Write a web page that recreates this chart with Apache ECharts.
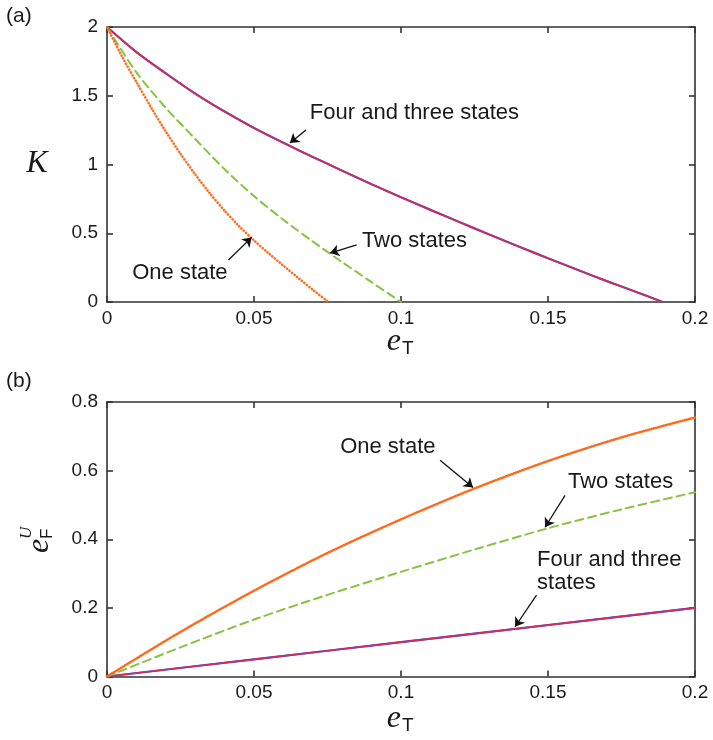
<!DOCTYPE html>
<html>
<head>
<meta charset="utf-8">
<script src="https://cdn.jsdelivr.net/npm/echarts/dist/echarts.min.js"></script>
<style>
  html, body { margin: 0; padding: 0; background: #fff; }
  #c { width: 713px; height: 740px; }
</style>
</head>
<body>
<div id="c"></div>
<script>
// ---------- data ----------
const xTickLabels = ['0', '0.05', '0.1', '0.15', '0.2'];
const kTickLabels = ['0', '0.5', '1', '1.5', '2'];
const efTickLabels = ['0', '0.2', '0.4', '0.6', '0.8'];

// panel (a): K vs e_T
const kFourThree = [[0,2],[0.01,1.818],[0.02,1.663],[0.03,1.516],[0.04,1.385],[0.05,1.266],[0.06,1.158],[0.07,1.055],[0.08,0.955],[0.09,0.857],[0.1,0.762],[0.11,0.67],[0.12,0.58],[0.13,0.491],[0.14,0.404],[0.15,0.318],[0.16,0.234],[0.17,0.152],[0.18,0.073],[0.189,0]];
const kTwo = [[0,2],[0.01,1.67],[0.02,1.412],[0.03,1.186],[0.04,0.965],[0.05,0.77],[0.06,0.598],[0.07,0.44],[0.08,0.29],[0.09,0.144],[0.1,0]];
const kOne = [[0,2],[0.005,1.79],[0.01,1.6],[0.015,1.415],[0.02,1.24],[0.025,1.078],[0.03,0.928],[0.035,0.79],[0.04,0.664],[0.045,0.55],[0.05,0.448],[0.055,0.354],[0.06,0.264],[0.065,0.176],[0.07,0.089],[0.0753,0]];

// panel (b): e_F^U vs e_T
const efOne = [[0,0],[0.025,0.13],[0.05,0.25],[0.075,0.36],[0.1,0.458],[0.125,0.548],[0.15,0.628],[0.175,0.697],[0.2,0.755]];
const efTwo = [[0,0],[0.025,0.085],[0.05,0.166],[0.075,0.238],[0.1,0.305],[0.125,0.37],[0.15,0.432],[0.175,0.487],[0.2,0.537]];
const efFourThree = [[0,0],[0.05,0.05],[0.1,0.1],[0.15,0.15],[0.2,0.2]];

// annotation arrows (from -> to, data coords) and texts
const arrowsA = [
  {from:[0.0677,1.251], to:[0.0622,1.156]},
  {from:[0.0849,0.415], to:[0.0759,0.356]},
  {from:[0.0413,0.305], to:[0.0492,0.47]}
];
const notesA = [
  {text:'Four and three states', at:[0.069,1.375], align:'left'},
  {text:'Two states', at:[0.0867,0.444], align:'left'},
  {text:'One state', at:[0.0248,0.211], align:'center'}
];
const arrowsB = [
  {from:[0.1133,0.630], to:[0.1245,0.551]},
  {from:[0.1558,0.528], to:[0.149,0.435]},
  {from:[0.1461,0.237], to:[0.1388,0.145]}
];
const notesB = [
  {text:'One state', at:[0.0793,0.668], align:'left'},
  {text:'Two states', at:[0.1568,0.566], align:'left'},
  {text:'Four and three\nstates', at:[0.1463,0.307], align:'left'}
];

// ---------- styles ----------
const FRAME = '#333';
const TXT = '#1a1a1a';
const SANS = '"Liberation Sans", Arial, Helvetica, sans-serif';
const SERIF = '"Liberation Serif", "Times New Roman", serif';
const ORANGE = '#ff6a1a';
const GREEN = '#86c440';
const RED = '#d62a5c';
const BLUE = '#4050c8';

function mkX(grid, pos, labels) {
  return {
    type: 'value', gridIndex: grid, position: pos, min: 0, max: 0.2, interval: 0.05,
    axisLine: { show: true, onZero: false, lineStyle: { color: FRAME, width: 1.6 } },
    axisTick: { show: true, inside: true, length: 6, lineStyle: { color: FRAME, width: 1.6 } },
    axisLabel: labels ? { show: true, margin: 7, fontSize: 19, color: TXT, fontFamily: SANS,
      showMinLabel: true, showMaxLabel: true, formatter: (v, i) => xTickLabels[i] } : { show: false },
    splitLine: { show: false }
  };
}
function mkY(grid, pos, labels, max, interval, tickLabels) {
  return {
    type: 'value', gridIndex: grid, position: pos, min: 0, max: max, interval: interval,
    axisLine: { show: true, onZero: false, lineStyle: { color: FRAME, width: 1.6 } },
    axisTick: { show: true, inside: true, length: 6, lineStyle: { color: FRAME, width: 1.6 } },
    axisLabel: labels ? { show: true, margin: 9, fontSize: 19, color: TXT, fontFamily: SANS,
      showMinLabel: true, showMaxLabel: true, formatter: (v, i) => tickLabels[i] } : { show: false },
    splitLine: { show: false }
  };
}
function line(xi, yi, data, color, width, type, extra) {
  return Object.assign({
    type: 'line', xAxisIndex: xi, yAxisIndex: yi, data: data, showSymbol: false, symbol: 'none',
    smooth: 0.3, silent: true,
    lineStyle: { color: color, width: width, type: type, cap: 'round' }
  }, extra || {});
}
function arrowMark(arrows) {
  return {
    silent: true, symbol: ['none', 'arrow'], symbolSize: 9,
    lineStyle: { color: '#111', width: 1.3, type: 'solid' },
    label: { show: false }, emphasis: { disabled: true },
    data: arrows.map(a => [{ coord: a.from }, { coord: a.to }])
  };
}

const option = {
  animation: false,
  backgroundColor: '#fff',
  grid: [
    { left: 107, top: 27, width: 588, height: 275 },
    { left: 107, top: 402, width: 588, height: 274.5 }
  ],
  xAxis: [mkX(0, 'bottom', true), mkX(0, 'top', false), mkX(1, 'bottom', true), mkX(1, 'top', false)],
  yAxis: [mkY(0, 'left', true, 2, 0.5, kTickLabels), mkY(0, 'right', false, 2, 0.5, kTickLabels),
          mkY(1, 'left', true, 0.8, 0.2, efTickLabels), mkY(1, 'right', false, 0.8, 0.2, efTickLabels)],
  series: [
    line(0, 0, kFourThree, BLUE, 2.2, 'solid'),
    line(0, 0, kFourThree, RED, 1.7, 'solid', { markLine: arrowMark(arrowsA) }),
    line(0, 0, kTwo, GREEN, 2, [8, 5]),
    line(0, 0, kOne, ORANGE, 2.6, [0.1, 3.1]),
    line(2, 2, efFourThree, BLUE, 2.2, 'solid'),
    line(2, 2, efFourThree, RED, 1.7, 'solid', { markLine: arrowMark(arrowsB) }),
    line(2, 2, efTwo, GREEN, 2, [8, 5]),
    line(2, 2, efOne, ORANGE, 2.6, [0.1, 2.0])
  ]
};

const chart = echarts.init(document.getElementById('c'), null, { renderer: 'canvas' });
chart.setOption(option);

const px = (si, pt) => chart.convertToPixel({ seriesIndex: si }, pt);
const g = [];
function note(si, n) {
  const p = px(si, n.at);
  g.push({ type: 'text', x: p[0], y: p[1], silent: true,
    style: { text: n.text, font: '22px ' + SANS, fill: TXT, textAlign: n.align, textVerticalAlign: 'middle', lineHeight: 23 } });
}
notesA.forEach(n => note(0, n));
notesB.forEach(n => note(4, n));

// panel letters
g.push({ type: 'text', x: 6, y: 16, silent: true, style: { text: '(a)', font: '21px ' + SANS, fill: TXT, textAlign: 'left', textVerticalAlign: 'middle' } });
g.push({ type: 'text', x: 6, y: 381, silent: true, style: { text: '(b)', font: '21px ' + SANS, fill: TXT, textAlign: 'left', textVerticalAlign: 'middle' } });

// y title panel (a): K
g.push({ type: 'text', x: 37, y: 164, silent: true, style: { text: 'K', font: 'italic 32px ' + SERIF, fill: TXT, textAlign: 'center', textVerticalAlign: 'middle' } });

// x titles: e_T
function eT(cy) {
  g.push({ type: 'text', x: 401, y: cy, silent: true, style: { text: 'e', font: 'italic 32px ' + SERIF, fill: TXT, textAlign: 'right', textVerticalAlign: 'middle' } });
  g.push({ type: 'text', x: 402, y: cy + 7, silent: true, style: { text: 'T', font: '19px ' + SANS, fill: TXT, textAlign: 'left', textVerticalAlign: 'middle' } });
}
eT(342);
eT(719);

// y title panel (b): e_F^U (rotated)
g.push({ type: 'group', x: 40, y: 553, rotation: Math.PI / 2, silent: true, children: [
  { type: 'text', x: 0, y: 0, style: { text: 'e', font: 'italic 32px ' + SERIF, fill: TXT, textAlign: 'left', textVerticalAlign: 'middle' } },
  { type: 'text', x: 14, y: 7, style: { text: 'F', font: '17px ' + SANS, fill: TXT, textAlign: 'left', textVerticalAlign: 'middle' } },
  { type: 'text', x: 14, y: -13, style: { text: 'U', font: 'italic 17px ' + SERIF, fill: TXT, textAlign: 'left', textVerticalAlign: 'middle' } }
]});

chart.setOption({ graphic: g });
</script>
</body>
</html>
